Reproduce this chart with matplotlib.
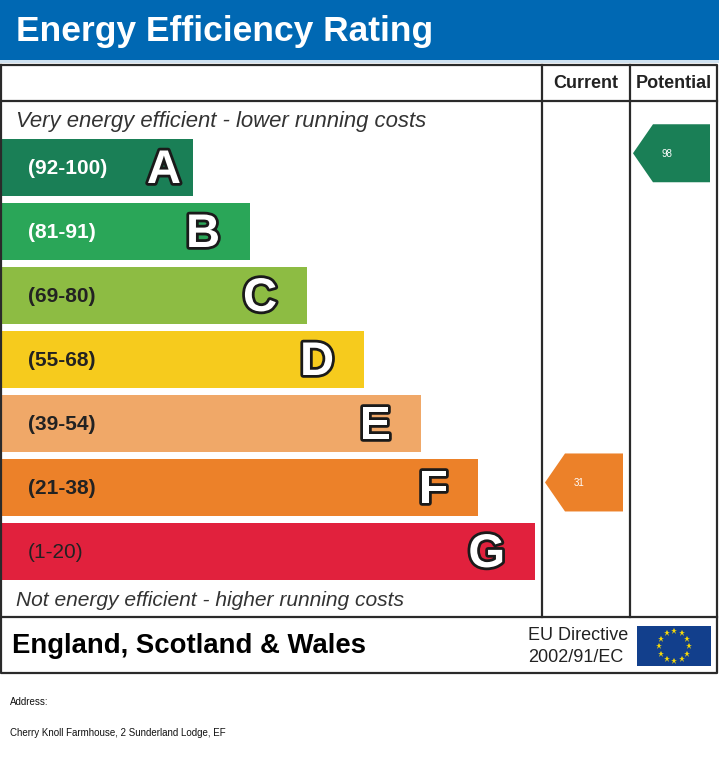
import numpy as np
import matplotlib
matplotlib.use("Agg")
import matplotlib.pyplot as plt
from matplotlib.patches import Rectangle, Polygon
import matplotlib.patheffects as pe

# ---- data ----
bands = ["A", "B", "C", "D", "E", "F", "G"]
range_labels = ["(92-100)", "(81-91)", "(69-80)", "(55-68)", "(39-54)", "(21-38)", "(1-20)"]
band_low = [92, 81, 69, 55, 39, 21, 1]
band_high = [100, 91, 80, 68, 54, 38, 20]
band_colors = ["#1a7f56", "#2aa658", "#8dbc43", "#f6cb1d", "#f0a868", "#ec8129", "#e1213d"]
label_colors = ["white", "white", "#222222", "#222222", "#222222", "#222222", "#222222"]
current_score = 31
potential_score = 98
title = "Energy Efficiency Rating"
top_note = "Very energy efficient - lower running costs"
bottom_note = "Not energy efficient - higher running costs"
region = "England, Scotland & Wales"
directive = ["EU Directive", "2002/91/EC"]
address_label = "Address:"
address = "Cherry Knoll Farmhouse, 2 Sunderland Lodge, EF"

W, H = 719, 761
fig = plt.figure(figsize=(W / 100, H / 100), dpi=100)
ax = fig.add_axes([0, 0, 1, 1])
ax.set_xlim(0, W)
ax.set_ylim(H, 0)
ax.axis("off")

FONT = "Liberation Sans"
LINE = "#2a2a2a"

# header band
ax.add_patch(Rectangle((0, 0), W, 60, color="#0068b3", lw=0))
ax.add_patch(Rectangle((0, 60), W, 2.5, color="#cfe2f1", lw=0))
ax.text(16, 31, title, color="white", fontsize=25.5, fontweight="bold",
        family=FONT, va="center", ha="left")

# table frame
tbl_l, tbl_r, tbl_t, hdr_b, body_b, foot_b = 1, 717, 65, 101, 617, 673
col_cur, col_pot = 542, 630
lw = 1.6
ax.plot([tbl_l, tbl_r, tbl_r, tbl_l, tbl_l], [tbl_t, tbl_t, foot_b, foot_b, tbl_t], color=LINE, lw=lw)
ax.plot([tbl_l, tbl_r], [hdr_b, hdr_b], color=LINE, lw=lw)
ax.plot([tbl_l, tbl_r], [body_b, body_b], color=LINE, lw=lw)
ax.plot([col_cur, col_cur], [tbl_t, body_b], color=LINE, lw=lw)
ax.plot([col_pot, col_pot], [tbl_t, body_b], color=LINE, lw=lw)

ax.text((col_cur + col_pot) / 2, 84, "Current", fontsize=13, fontweight="bold",
        family=FONT, ha="center", va="center", color="#222222")
ax.text((col_pot + tbl_r) / 2, 84, "Potential", fontsize=13, fontweight="bold",
        family=FONT, ha="center", va="center", color="#222222")

ax.text(16, 121, top_note, fontsize=15.9, style="italic", family=FONT,
        ha="left", va="center", color="#333333")
ax.text(16, 601, bottom_note, fontsize=15.1, style="italic", family=FONT,
        ha="left", va="center", color="#333333")

# bands
band_top0, band_step, band_h = 139, 64.0, 57
bar_x0, bar_w0, bar_dw = 2, 191, 57.0
stroke = [pe.withStroke(linewidth=4, foreground="#1a1a1a")]
for i, (b, rl, c, lc) in enumerate(zip(bands, range_labels, band_colors, label_colors)):
    top = band_top0 + i * band_step
    w = bar_w0 + i * bar_dw
    ax.add_patch(Rectangle((bar_x0, top), w, band_h, color=c, lw=0))
    ax.text(28, top + band_h / 2 + 0.5, rl, fontsize=15,
            fontweight="normal" if b == "G" else "bold",
            family=FONT, color=lc, ha="left", va="center")
    pad = 12 if i == 0 else 30
    t = ax.text(bar_x0 + w - pad, top + 44, b, fontsize=34, fontweight="bold",
                family=FONT, color="white", ha="right", va="baseline")
    t.set_path_effects(stroke)


def band_index(score):
    for i, (lo, hi) in enumerate(zip(band_low, band_high)):
        if lo <= score <= hi:
            return i
    return len(bands) - 1


def draw_arrow(score, col_left, col_right):
    i = band_index(score)
    lo, hi = band_low[i], band_high[i]
    frac = (score - lo) / (hi - lo)
    top = band_top0 + i * band_step
    cy = top + (1 - frac) * band_h
    ah = 58
    tip = col_left + 3
    body = tip + 20
    right = col_right - 7
    poly = Polygon([(tip, cy), (body, cy - ah / 2), (right, cy - ah / 2),
                    (right, cy + ah / 2), (body, cy + ah / 2)],
                   closed=True, color=band_colors[i], lw=0)
    ax.add_patch(poly)
    ax.text(body + 14, cy + 1, str(score), fontsize=7, color="white",
            family=FONT, ha="center", va="center")


draw_arrow(current_score, col_cur, col_pot)
draw_arrow(potential_score, col_pot, tbl_r)

# footer
ax.text(12, 646, region, fontsize=19.8, fontweight="bold", family=FONT,
        ha="left", va="center", color="black")
ax.text(528, 636, directive[0], fontsize=13, family=FONT, ha="left", va="center", color="#222222")
ax.text(528, 657, directive[1], fontsize=13, family=FONT, ha="left", va="center", color="#222222")

# EU flag
fx0, fx1, fy0, fy1 = 637, 711, 626, 666
ax.add_patch(Rectangle((fx0, fy0), fx1 - fx0, fy1 - fy0, color="#123f8c", lw=0))
cx, cy = (fx0 + fx1) / 2, (fy0 + fy1) / 2
ang = np.arange(12) * np.pi / 6
ax.plot(cx + 15 * np.cos(ang), cy + 15 * np.sin(ang), linestyle="none",
        marker="*", markersize=4.5, color="#f5d90a", markeredgewidth=0)

# address
ax.text(10, 702, address_label, fontsize=7, family=FONT, ha="left", va="center", color="#111111")
ax.text(10, 733, address, fontsize=7, family=FONT, ha="left", va="center", color="#111111")

fig.savefig("out.png", dpi=100, facecolor="white")
